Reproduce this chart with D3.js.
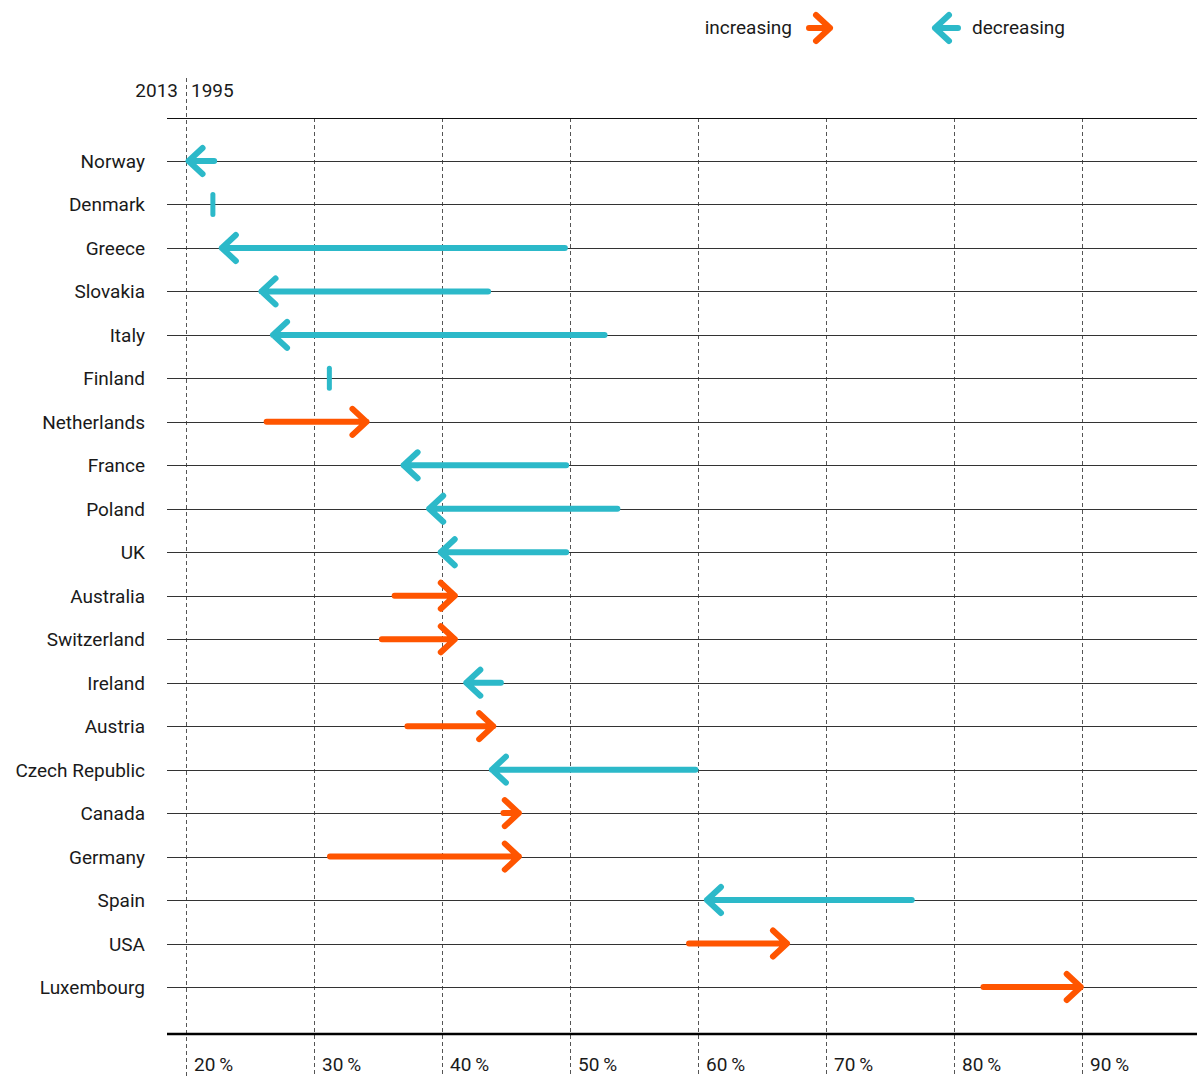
<!DOCTYPE html>
<html>
<head>
<meta charset="utf-8">
<script src="https://cdn.jsdelivr.net/npm/d3@7"></script>
<style>
  html, body { margin: 0; padding: 0; background: #fff; }
  svg { display: block; }
  text { font-family: Roboto, "DejaVu Sans Condensed", sans-serif; fill: #1a1a1a; }
</style>
</head>
<body>
<div id="chart"></div>
<script>
// ---- data ----
const countries = ["Norway","Denmark","Greece","Slovakia","Italy","Finland","Netherlands","France","Poland","UK","Australia","Switzerland","Ireland","Austria","Czech Republic","Canada","Germany","Spain","USA","Luxembourg"];
const values1995 = [22.2, 22.1, 49.6, 43.6, 52.7, 31.2, 26.3, 49.7, 53.7, 49.7, 36.3, 35.3, 44.6, 37.3, 59.8, 44.8, 31.25, 76.7, 59.3, 82.3];
const values2013 = [20.2, 22.1, 22.8, 25.9, 26.8, 31.2, 34.1, 37.0, 39.0, 39.9, 41.0, 41.0, 41.9, 44.0, 43.9, 46.0, 46.0, 60.7, 66.95, 89.9];
const tickValues = [20, 30, 40, 50, 60, 70, 80, 90];
const tickLabels = ["20\u2009%", "30\u2009%", "40\u2009%", "50\u2009%", "60\u2009%", "70\u2009%", "80\u2009%", "90\u2009%"];
const legendLabels = ["increasing", "decreasing"];
const headerLabels = ["2013", "1995"];

const W = 1197, H = 1077;
const colorUp = "#ff5500", colorDown = "#2cb9c9";

const svg = d3.select("#chart").append("svg").attr("width", W).attr("height", H);

const x = d3.scaleLinear().domain([20, 90]).range([186, 1082]);
const y = d3.scalePoint().domain(countries).range([161, 987]);

const lineX0 = 167, lineX1 = W;

// dashed verticals
svg.append("g").selectAll("line").data(tickValues).join("line")
  .attr("x1", d => Math.round(x(d)) + 0.5).attr("x2", d => Math.round(x(d)) + 0.5)
  .attr("y1", d => d === 20 ? 78 : 118).attr("y2", H)
  .attr("stroke", "#555").attr("stroke-width", 1).attr("stroke-dasharray", "4,3");

// top line
svg.append("line").attr("x1", lineX0).attr("x2", lineX1).attr("y1", 118.5).attr("y2", 118.5)
  .attr("stroke", "#111").attr("stroke-width", 1);

// row lines
svg.append("g").selectAll("line").data(countries).join("line")
  .attr("x1", lineX0).attr("x2", lineX1)
  .attr("y1", d => Math.round(y(d)) + 0.5).attr("y2", d => Math.round(y(d)) + 0.5)
  .attr("stroke", "#333").attr("stroke-width", 1);

// bottom axis line
svg.append("line").attr("x1", lineX0).attr("x2", lineX1).attr("y1", 1034).attr("y2", 1034)
  .attr("stroke", "#000").attr("stroke-width", 2.5);

// tick labels
svg.append("g").selectAll("text").data(tickValues).join("text")
  .attr("x", d => x(d) + 8).attr("y", 1071)
  .attr("font-size", 19)
  .text((d, i) => tickLabels[i]);

// header labels
svg.append("text").attr("x", 178).attr("y", 97).attr("text-anchor", "end").attr("font-size", 19).text(headerLabels[0]);
svg.append("text").attr("x", 191).attr("y", 97).attr("font-size", 19).text(headerLabels[1]);

// country labels
svg.append("g").selectAll("text").data(countries).join("text")
  .attr("x", 145).attr("y", d => y(d) + 7)
  .attr("text-anchor", "end").attr("font-size", 19)
  .text(d => d);

// arrows
const headLen = 14, headH = 13;
function arrowPath(x0, x1, yy) {
  const dir = x1 > x0 ? 1 : -1;
  return `M${x0},${yy}L${x1},${yy}M${x1 - dir*headLen},${yy - headH}L${x1},${yy}L${x1 - dir*headLen},${yy + headH}`;
}
const data = countries.map((c, i) => ({ c, a: values1995[i], b: values2013[i] }));

const g = svg.append("g");
data.forEach(d => {
  const yy = y(d.c);
  if (d.a === d.b) {
    g.append("line").attr("x1", x(d.a)).attr("x2", x(d.a)).attr("y1", yy - 10).attr("y2", yy + 10)
      .attr("stroke", colorDown).attr("stroke-width", 5).attr("stroke-linecap", "round");
  } else {
    g.append("path").attr("d", arrowPath(x(d.a), x(d.b), yy))
      .attr("fill", "none").attr("stroke", d.b > d.a ? colorUp : colorDown)
      .attr("stroke-width", 6).attr("stroke-linecap", "round").attr("stroke-linejoin", "round");
  }
});

// legend
svg.append("text").attr("x", 792).attr("y", 34).attr("text-anchor", "end").attr("font-size", 19).text(legendLabels[0]);
svg.append("path").attr("d", arrowPath(809, 830, 28)).attr("fill", "none").attr("stroke", colorUp)
  .attr("stroke-width", 6).attr("stroke-linecap", "round").attr("stroke-linejoin", "round");
svg.append("path").attr("d", arrowPath(958, 935, 28)).attr("fill", "none").attr("stroke", colorDown)
  .attr("stroke-width", 6).attr("stroke-linecap", "round").attr("stroke-linejoin", "round");
svg.append("text").attr("x", 972).attr("y", 34).attr("font-size", 19).text(legendLabels[1]);
</script>
</body>
</html>
